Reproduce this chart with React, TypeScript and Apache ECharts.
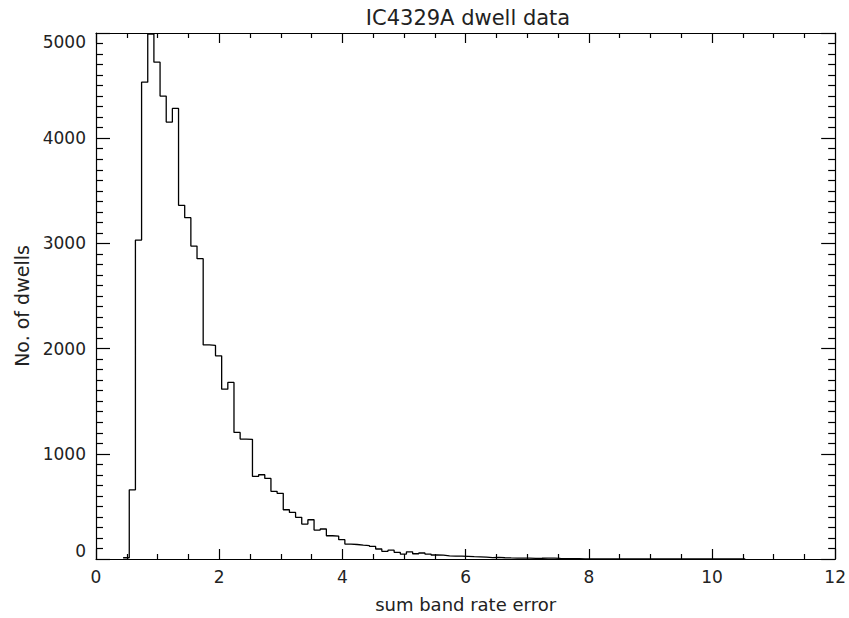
import React, { useEffect, useRef } from "react";
import * as echarts from "echarts";

// Histogram of summed band-rate errors, 0.1-wide bins starting at 0.44
const BIN_START = 0.44;
const BIN_WIDTH = 0.1;
const counts: number[] = [
  12, 658, 3032, 4533, 4990, 4723, 4400, 4153, 4283, 3362,
  3245, 2975, 2855, 2035, 2030, 1931, 1614, 1678, 1203, 1140,
  1138, 785, 801, 766, 643, 624, 468, 443, 396, 332,
  373, 275, 285, 221, 218, 184, 142, 138, 132, 127,
  120, 95, 73, 84, 63, 47, 68, 50, 57, 47,
  38, 36, 30, 28, 27, 25, 22, 20, 18, 14,
  16, 12, 10, 9, 8, 8, 6, 7, 9, 8,
  5, 4, 3, 3, 2, 2, 2, 1, 2, 1,
  1, 2, 1, 1, 0, 1, 1, 0, 1, 0,
  1, 0, 0, 1, 0, 1, 0, 1, 2, 2, 1,
];

const xTicks = { min: 0, max: 12, interval: 2 };
const yTicks = { min: 0, max: 5000, interval: 1000 };

const TITLE = "IC4329A dwell data";
const X_NAME = "sum band rate error";
const Y_NAME = "No. of dwells";

const FONT = "DejaVu Sans";
const INK = "#222";

export default function App() {
  const ref = useRef<HTMLDivElement>(null);

  useEffect(() => {
    if (!ref.current) return;
    const chart = echarts.init(ref.current, null, { renderer: "svg" });

    // step points at each bin's left edge, closed at the last right edge
    const steps: [number, number][] = counts.map((c, i) => [
      +(BIN_START + i * BIN_WIDTH).toFixed(3),
      c,
    ]);
    steps.push([+(BIN_START + counts.length * BIN_WIDTH).toFixed(3), 0]);

    const line = { color: "#000", width: 1.2 };
    const label = {
      color: INK,
      fontSize: 17,
      fontFamily: FONT,
      formatter: (v: number) => String(v),
    };

    const xBase = {
      type: "value" as const,
      ...xTicks,
      axisLine: { show: true, onZero: false, lineStyle: line },
      axisTick: { show: true, inside: true, length: 10, lineStyle: line },
      minorTick: { show: true, splitNumber: 4, length: 5, lineStyle: line },
      splitLine: { show: false },
    };
    const yBase = {
      type: "value" as const,
      ...yTicks,
      axisLine: { show: true, onZero: false, lineStyle: line },
      axisTick: { show: true, inside: true, length: 14, lineStyle: line },
      minorTick: { show: true, splitNumber: 10, length: 7, lineStyle: line },
      splitLine: { show: false },
    };

    chart.setOption({
      animation: false,
      backgroundColor: "#fff",
      title: {
        text: TITLE,
        left: 463,
        top: 2,
        textAlign: "center",
        textStyle: { fontSize: 21, fontWeight: "normal", color: INK, fontFamily: FONT },
      },
      grid: { left: 96, right: 12, top: 33, bottom: 57, containLabel: false },
      xAxis: [
        {
          ...xBase,
          position: "bottom",
          axisLabel: { ...label, margin: 9 },
          name: X_NAME,
          nameLocation: "middle",
          nameGap: 36,
          nameTextStyle: { color: INK, fontSize: 18, fontFamily: FONT },
        },
        { ...xBase, position: "top", axisLabel: { show: false } },
      ],
      yAxis: [
        {
          ...yBase,
          position: "left",
          axisLabel: {
            ...label,
            margin: 10,
            verticalAlignMinLabel: "bottom",
            verticalAlignMaxLabel: "top",
          },
        },
        { ...yBase, position: "right", axisLabel: { show: false } },
      ],
      graphic: [
        {
          type: "text",
          x: 22,
          y: 306,
          rotation: Math.PI / 2,
          style: {
            text: Y_NAME,
            align: "center",
            verticalAlign: "middle",
            fontSize: 19,
            fontFamily: FONT,
            fill: INK,
          },
        },
      ],
      series: [
        {
          type: "line",
          xAxisIndex: 0,
          yAxisIndex: 0,
          step: "end",
          symbol: "none",
          data: steps,
          lineStyle: { color: "#000", width: 1.3 },
        },
      ],
    });

    return () => chart.dispose();
  }, []);

  return (
    <div
      ref={ref}
      style={{ position: "fixed", left: 0, top: 0, width: 849, height: 618, background: "#fff" }}
    />
  );
}
